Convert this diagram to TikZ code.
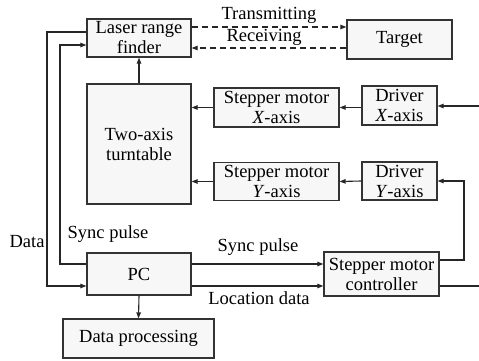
\documentclass[tikz,border=0pt]{standalone}
\usepackage{fontspec}
\setmainfont{Liberation Serif}
\usetikzlibrary{arrows.meta}
\begin{document}
\begin{tikzpicture}[x=1pt,y=-1pt,
  box/.style={draw=black!80,line width=1.3pt,fill=black!3,inner sep=0pt,align=center,
    font=\fontsize{18.5}{20}\selectfont},
  lbl/.style={inner sep=0pt,font=\fontsize{18.5}{20}\selectfont},
  conn/.style={line width=1.1pt,draw=black!85},
  arr/.style={conn,-{Triangle[length=6pt,width=4.5pt]}},
  dsh/.style={dash pattern=on 6pt off 4pt}]
\useasboundingbox (0,0) rectangle (479,361);
\node[box,minimum width=104pt,minimum height=38pt] (laser) at (139,38) {Laser range\\finder};
\node[box,minimum width=105pt,minimum height=39pt] (target) at (399.5,39.5) {Target};
\node[box,minimum width=104pt,minimum height=120pt] (turn) at (139,144) {Two-axis\\turntable};
\node[box,minimum width=125pt,minimum height=39pt] (smx) at (276.5,107.5) {Stepper motor\\\textit{X}-axis};
\node[box,minimum width=75pt,minimum height=39pt] (drvx) at (399.5,105.5) {Driver\\\textit{X}-axis};
\node[box,minimum width=125pt,minimum height=38pt] (smy) at (276.5,181.5) {Stepper motor\\\textit{Y}-axis};
\node[box,minimum width=75pt,minimum height=38pt] (drvy) at (399.5,181) {Driver\\\textit{Y}-axis};
\node[box,minimum width=115pt,minimum height=44pt] (ctrl) at (381.5,274) {Stepper motor\\controller};
\node[box,minimum width=104pt,minimum height=42pt] (pc) at (139,274) {PC};
\node[box,minimum width=151pt,minimum height=39pt] (dp) at (138.5,338.5) {Data processing};

\coordinate (yt) at (0,27);
\coordinate (yr) at (0,48);
\draw[arr,dsh] (laser.east |- yt) -- (target.west |- yt);
\draw[arr,dsh] (target.west |- yr) -- (laser.east |- yr);
\node[lbl] (ltx) at (269,15) {Transmitting};
\node[lbl] (lrx) at (264,37) {Receiving};

\draw[arr] (turn.north) -- (laser.south);
\coordinate (inx) at (479,106);
\draw[arr] (inx) -- (drvx.east |- inx);
\draw[arr] (drvx.west |- smx) -- (smx.east);
\draw[arr] (smx.west) -- (turn.east |- smx);
\draw[arr] (drvy.west) -- (smy.east);
\draw[arr] (smy.west) -- (turn.east |- smy);

\coordinate (c1) at (0,260);
\coordinate (c2) at (0,286);
\coordinate (rx) at (464,0);
\coordinate (outx) at (479,286);
\draw[arr] (ctrl.east |- c1) -| (rx |- drvy.east) -- (drvy.east);
\draw[conn] (ctrl.east |- c2) -- (outx);

\coordinate (p1) at (0,264);
\draw[arr] (pc.east |- p1) -- (ctrl.west |- p1);
\draw[arr] (pc.east |- c2) -- (ctrl.west |- c2);
\node[lbl] (lsp2) at (258,247) {Sync pulse};
\node[lbl] (lld) at (259,298) {Location data};

\draw[arr] (pc.south) -- (dp.north);

\coordinate (xo) at (47,0);
\coordinate (xi) at (60,0);
\coordinate (l1) at (0,32);
\coordinate (l2) at (0,45);
\draw[arr] (laser.west |- l1) -| (xo |- c2) -- (pc.west |- c2);
\draw[arr] (pc.west |- p1) -| (xi |- l2) -- (laser.west |- l2);
\node[lbl] (ldata) at (27,242) {Data};
\node[lbl] (lsp1) at (108,234) {Sync pulse};
\end{tikzpicture}
\end{document}
